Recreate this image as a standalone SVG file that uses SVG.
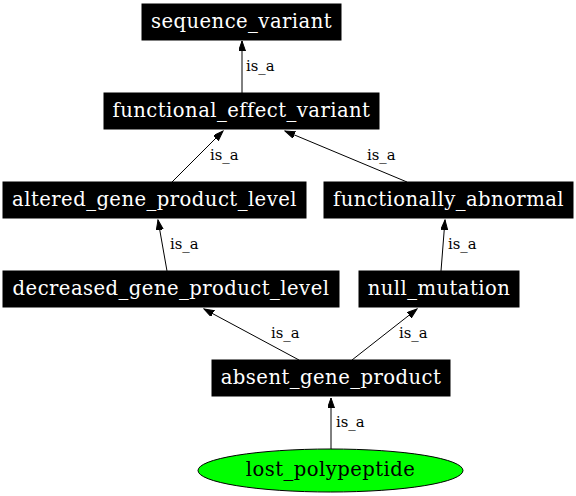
<svg xmlns="http://www.w3.org/2000/svg" width="576" height="496" viewBox="0 0 576 496">
<style>
.box{fill:#000;stroke:#000;stroke-width:1}
.nt{font-family:"DejaVu Serif",serif;font-size:19.6px;letter-spacing:0.45px;fill:#fff;text-anchor:middle}
.lt{font-family:"DejaVu Serif",serif;font-size:14.8px;fill:#000}
.e line{stroke:#000;stroke-width:1;marker-end:url(#ah)}
</style>
<defs>
<marker id="ah" markerUnits="userSpaceOnUse" markerWidth="11" markerHeight="8" refX="10" refY="3.5" orient="auto">
<path d="M0,0 L10,3.5 L0,7 z" fill="#000" stroke="#000" stroke-width="1"/>
</marker>
</defs>
<rect width="576" height="496" fill="#fff"/>
<g id="edges" class="e">
<line x1="242" y1="93" x2="242" y2="41"/>
<text class="lt" x="246" y="71">is_a</text>
<line x1="172" y1="182" x2="223" y2="131"/>
<text class="lt" x="210" y="160">is_a</text>
<line x1="407" y1="182" x2="285" y2="131"/>
<text class="lt" x="367" y="160">is_a</text>
<line x1="167" y1="271" x2="158" y2="220"/>
<text class="lt" x="170" y="249">is_a</text>
<line x1="441" y1="271" x2="445" y2="220"/>
<text class="lt" x="448" y="249">is_a</text>
<line x1="299" y1="360" x2="204" y2="309"/>
<text class="lt" x="271" y="338">is_a</text>
<line x1="352" y1="360" x2="417" y2="309"/>
<text class="lt" x="399" y="338">is_a</text>
<line x1="331" y1="449" x2="331" y2="398"/>
<text class="lt" x="336" y="427">is_a</text>
</g>
<g id="sequence_variant"><rect class="box" x="142" y="4" width="199" height="36"/><text class="nt" x="241.5" y="27.5">sequence_variant</text></g>
<g id="functional_effect_variant"><rect class="box" x="104" y="93" width="275" height="36"/><text class="nt" x="241.5" y="116.5">functional_effect_variant</text></g>
<g id="altered_gene_product_level"><rect class="box" x="3" y="182" width="303" height="36"/><text class="nt" x="154.5" y="205.5">altered_gene_product_level</text></g>
<g id="functionally_abnormal"><rect class="box" x="324" y="182" width="249" height="36"/><text class="nt" x="448.5" y="205.5">functionally_abnormal</text></g>
<g id="decreased_gene_product_level"><rect class="box" x="3" y="271" width="336" height="36"/><text class="nt" x="171" y="294.5">decreased_gene_product_level</text></g>
<g id="null_mutation"><rect class="box" x="359" y="271" width="160" height="36"/><text class="nt" x="439" y="294.5">null_mutation</text></g>
<g id="absent_gene_product"><rect class="box" x="212" y="360" width="238" height="36"/><text class="nt" x="331" y="383.5">absent_gene_product</text></g>
<g id="lost_polypeptide"><ellipse cx="330.5" cy="470.5" rx="132.5" ry="21.5" fill="#00ff00" stroke="#000" stroke-width="1"/><text x="330.5" y="476" style="font-family:'DejaVu Serif',serif;font-size:19.6px;letter-spacing:0.45px;fill:#000;text-anchor:middle">lost_polypeptide</text></g>
</svg>
